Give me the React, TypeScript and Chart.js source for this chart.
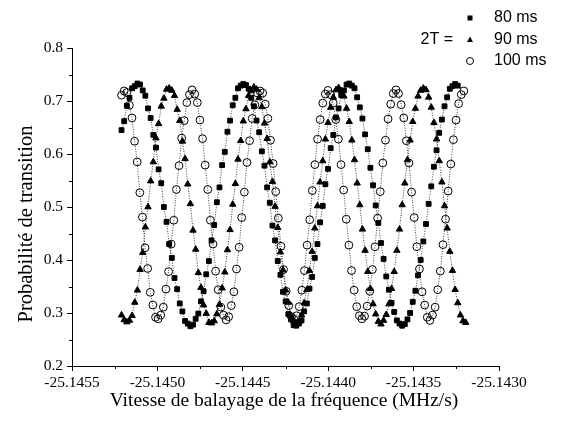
import React, { useEffect, useRef } from 'react';
import { Chart, registerables } from 'chart.js';

Chart.register(...registerables);

// Sweep grid (MHz/s): start and step of each scan
const X_START = -25.14521;
const STEP_80 = 0.0000155;
const STEP_90 = 0.0000155;
const STEP_100 = 0.0000153;

// 2T = 80 ms (filled squares)
const y80 = [
  0.645, 0.662, 0.691, 0.706, 0.724, 0.728, 0.733,
  0.731, 0.720, 0.710, 0.686, 0.668, 0.636, 0.612, 0.571, 0.545, 0.500, 0.472, 0.430, 0.404, 0.366, 0.345, 0.318, 0.303, 0.285, 0.280, 0.275,
  0.278, 0.289, 0.299, 0.322, 0.341, 0.373, 0.398, 0.437, 0.466, 0.509, 0.537, 0.579, 0.604, 0.642, 0.663, 0.692, 0.706, 0.724, 0.729, 0.732,
  0.730, 0.723, 0.706, 0.690, 0.663, 0.641, 0.605, 0.578, 0.537, 0.508, 0.465, 0.437, 0.398, 0.372, 0.340, 0.322, 0.298, 0.288, 0.277, 0.276,
  0.280, 0.286, 0.303, 0.318, 0.346, 0.368, 0.404, 0.430, 0.471, 0.502, 0.543, 0.572, 0.611, 0.636, 0.669, 0.686, 0.711, 0.720, 0.731, 0.733,
  0.729, 0.724, 0.707, 0.688, 0.667, 0.637, 0.609, 0.574, 0.541, 0.503, 0.470, 0.432, 0.402, 0.369, 0.344, 0.319, 0.302, 0.286, 0.280, 0.276,
  0.279, 0.288, 0.300, 0.321, 0.342, 0.371, 0.400, 0.435, 0.468, 0.506, 0.539, 0.576, 0.607, 0.640, 0.665, 0.690, 0.707, 0.723, 0.728, 0.732,
  0.729,
];

// 2T = 90 ms (filled triangles)
const y90 = [
  0.296, 0.287, 0.283,
  0.286, 0.295, 0.320, 0.343, 0.382, 0.414, 0.462, 0.500, 0.549, 0.585, 0.630, 0.657, 0.690, 0.705, 0.722, 0.724,
  0.720, 0.710, 0.684, 0.663, 0.624, 0.591, 0.543, 0.506, 0.456, 0.420, 0.376, 0.348, 0.315, 0.299, 0.282, 0.281,
  0.285, 0.298, 0.316, 0.347, 0.377, 0.419, 0.457, 0.505, 0.544, 0.590, 0.625, 0.662, 0.685, 0.710, 0.719, 0.726,
  0.722, 0.706, 0.689, 0.658, 0.629, 0.585, 0.548, 0.501, 0.461, 0.415, 0.381, 0.343, 0.320, 0.295, 0.285, 0.280,
  0.283, 0.296, 0.319, 0.344, 0.380, 0.416, 0.460, 0.502, 0.547, 0.587, 0.628, 0.659, 0.688, 0.707, 0.721, 0.725,
  0.719, 0.709, 0.686, 0.661, 0.626, 0.589, 0.545, 0.504, 0.458, 0.418, 0.378, 0.346, 0.317, 0.298, 0.284, 0.279,
  0.286, 0.297, 0.317, 0.346, 0.378, 0.418, 0.458, 0.504, 0.545, 0.589, 0.626, 0.661, 0.686, 0.709, 0.720, 0.724,
  0.721, 0.707, 0.688, 0.659, 0.628, 0.587, 0.547, 0.502, 0.460, 0.416, 0.380, 0.344, 0.319, 0.296, 0.285, 0.282,
];

// 2T = 100 ms (open circles)
const y100 = [
  0.711, 0.719,
  0.716, 0.692, 0.668, 0.624, 0.585, 0.527, 0.481, 0.423, 0.384, 0.339, 0.315, 0.292, 0.289,
  0.296, 0.311, 0.345, 0.378, 0.430, 0.475, 0.533, 0.578, 0.630, 0.663, 0.697, 0.712, 0.721,
  0.713, 0.697, 0.664, 0.629, 0.579, 0.533, 0.475, 0.430, 0.379, 0.344, 0.311, 0.296, 0.287,
  0.293, 0.314, 0.340, 0.383, 0.424, 0.480, 0.528, 0.584, 0.625, 0.667, 0.693, 0.715, 0.719,
  0.715, 0.694, 0.667, 0.626, 0.582, 0.529, 0.479, 0.426, 0.382, 0.341, 0.314, 0.293, 0.288,
  0.295, 0.312, 0.343, 0.380, 0.428, 0.476, 0.531, 0.580, 0.628, 0.665, 0.696, 0.713, 0.720,
  0.712, 0.696, 0.665, 0.628, 0.580, 0.532, 0.477, 0.428, 0.380, 0.343, 0.312, 0.295, 0.289,
  0.294, 0.313, 0.341, 0.382, 0.425, 0.479, 0.529, 0.583, 0.626, 0.666, 0.694, 0.714, 0.721,
  0.714, 0.693, 0.668, 0.625, 0.583, 0.528, 0.480, 0.425, 0.383, 0.340, 0.315, 0.292, 0.286,
  0.296, 0.311, 0.344, 0.379, 0.429, 0.477, 0.530, 0.581, 0.627, 0.664, 0.695, 0.712, 0.719,
];

const xTicks = [-25.1455, -25.145, -25.1445, -25.144, -25.1435, -25.143];
const xMinorTicks = [-25.14525, -25.14475, -25.14425, -25.14375, -25.14325];
const yTicks = [0.2, 0.3, 0.4, 0.5, 0.6, 0.7, 0.8];
const yMinorTicks = [0.25, 0.35, 0.45, 0.55, 0.65, 0.75];

const seriesLabels = ['80 ms', '90 ms', '100 ms'];
const legendPrefix = '2T =';
const xTitle = 'Vitesse de balayage de la fréquence (MHz/s)';
const yTitle = 'Probabilité de transition';

const SERIF = '"Liberation Serif", "Times New Roman", serif';
const SANS = '"Liberation Sans", Arial, sans-serif';

const toPoints = (ys: number[], step: number) =>
  ys.map((y, i) => ({ x: X_START + i * step, y }));

const decorPlugin = {
  id: 'decor',
  afterDraw(chart: any) {
    const ctx = chart.ctx as CanvasRenderingContext2D;
    const xs = chart.scales.x;
    const ys = chart.scales.y;
    const area = chart.chartArea;
    ctx.save();
    ctx.strokeStyle = '#000';
    ctx.lineWidth = 1;
    ctx.beginPath();
    yMinorTicks.forEach((v) => {
      const py = Math.round(ys.getPixelForValue(v)) + 0.5;
      ctx.moveTo(area.left, py);
      ctx.lineTo(area.left - 3, py);
    });
    xMinorTicks.forEach((v) => {
      const px = Math.round(xs.getPixelForValue(v)) + 0.5;
      ctx.moveTo(px, area.bottom);
      ctx.lineTo(px, area.bottom + 3);
    });
    ctx.stroke();

    // axis titles
    ctx.fillStyle = '#000';
    ctx.font = '19.5px ' + SERIF;
    ctx.textAlign = 'center';
    ctx.textBaseline = 'middle';
    ctx.fillText(xTitle, 284, 401);
    ctx.save();
    ctx.translate(27, 224);
    ctx.rotate(-Math.PI / 2);
    ctx.font = '20.5px ' + SERIF;
    ctx.fillText(yTitle, 0, 0);
    ctx.restore();

    // legend
    const rowsY = [18, 40, 61];
    const markX = 470;
    const textX = 494;
    ctx.font = '16px ' + SANS;
    ctx.textBaseline = 'middle';
    ctx.textAlign = 'left';
    seriesLabels.forEach((t, i) => ctx.fillText(t, textX, rowsY[i]));
    ctx.textAlign = 'right';
    ctx.fillText(legendPrefix, 453, rowsY[1]);
    ctx.fillRect(markX - 2.5, rowsY[0] - 2.5, 5, 5);
    ctx.beginPath();
    ctx.moveTo(markX, rowsY[1] - 3.5);
    ctx.lineTo(markX + 3, rowsY[1] + 2);
    ctx.lineTo(markX - 3, rowsY[1] + 2);
    ctx.closePath();
    ctx.fill();
    ctx.beginPath();
    ctx.arc(markX, rowsY[2], 3.5, 0, Math.PI * 2);
    ctx.stroke();
    ctx.restore();
  },
};

export default function App() {
  const ref = useRef<HTMLCanvasElement | null>(null);
  useEffect(() => {
    if (!ref.current) return;
    const lineCommon = {
      showLine: true,
      borderColor: '#3a3a3a',
      borderWidth: 1,
      borderDash: [1, 1.5],
      tension: 0,
      pointBorderColor: '#000',
      pointBorderWidth: 1,
    };
    const chart = new Chart(ref.current, {
      type: 'scatter',
      data: {
        datasets: [
          {
            ...lineCommon,
            label: seriesLabels[0],
            data: toPoints(y80, STEP_80),
            pointStyle: 'rect',
            pointRadius: 3.4,
            pointBackgroundColor: '#000',
          },
          {
            ...lineCommon,
            label: seriesLabels[1],
            data: toPoints(y90, STEP_90),
            pointStyle: 'triangle',
            pointRadius: 3.7,
            pointBackgroundColor: '#000',
          },
          {
            ...lineCommon,
            label: seriesLabels[2],
            data: toPoints(y100, STEP_100),
            pointStyle: 'circle',
            pointRadius: 3.9,
            pointBackgroundColor: 'rgba(255,255,255,0)',
          },
        ],
      },
      options: {
        responsive: false,
        animation: false,
        events: [],
        layout: { padding: { top: 48, right: 63, left: 0, bottom: 0 } },
        plugins: {
          legend: { display: false },
          tooltip: { enabled: false },
        },
        scales: {
          x: {
            type: 'linear',
            position: 'bottom',
            min: -25.1455,
            max: -25.143,
            afterBuildTicks: (s: any) => {
              s.ticks = xTicks.map((v) => ({ value: v }));
            },
            afterFit: (s: any) => {
              s.height = 55;
            },
            ticks: {
              callback: (v: any) => Number(v).toFixed(4),
              font: { family: SERIF, size: 15.5 },
              color: '#000',
              padding: 3,
              maxRotation: 0,
              autoSkip: false,
            },
            grid: {
              drawOnChartArea: false,
              drawTicks: true,
              tickLength: 5,
              tickColor: '#000',
              tickWidth: 1,
            },
            border: { display: true, color: '#000', width: 1 },
            title: { display: false },
          },
          y: {
            type: 'linear',
            min: 0.2,
            max: 0.8,
            afterBuildTicks: (s: any) => {
              s.ticks = yTicks.map((v) => ({ value: v }));
            },
            afterFit: (s: any) => {
              s.width = 72;
            },
            ticks: {
              callback: (v: any) => Number(v).toFixed(1),
              font: { family: SERIF, size: 15.5 },
              color: '#000',
              padding: 4,
            },
            grid: {
              drawOnChartArea: false,
              drawTicks: true,
              tickLength: 5,
              tickColor: '#000',
              tickWidth: 1,
            },
            border: { display: true, color: '#000', width: 1 },
            title: { display: false },
          },
        },
      },
      plugins: [decorPlugin],
    } as any);
    return () => chart.destroy();
  }, []);

  return (
    <div style={{ position: 'fixed', left: 0, top: 0, width: 562, height: 421, background: '#fff' }}>
      <canvas ref={ref} width={562} height={421} style={{ display: 'block' }} />
    </div>
  );
}
